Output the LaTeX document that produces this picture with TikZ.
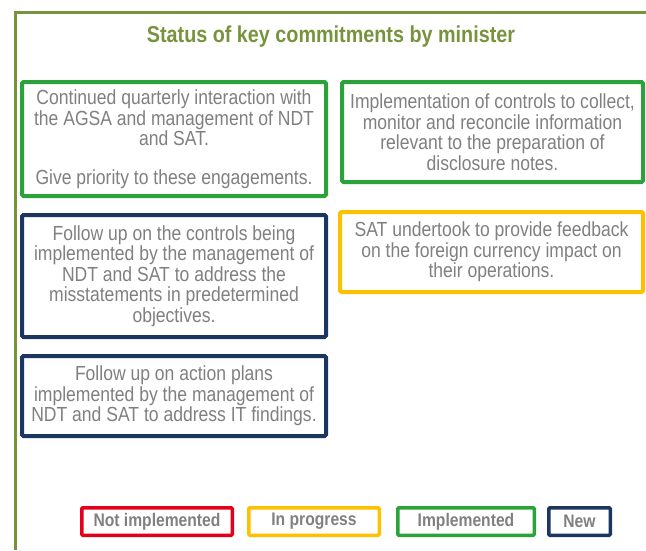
\documentclass[tikz,border=0pt]{standalone}
\usepackage{fontspec}
\setmainfont[FakeStretch=0.86]{Liberation Sans}
\definecolor{frameolive}{RGB}{119, 147, 60}
\definecolor{stgreen}{RGB}{44, 162, 58}
\definecolor{stnavy}{RGB}{28, 54, 98}
\definecolor{styellow}{RGB}{255, 192, 0}
\definecolor{stred}{RGB}{226, 0, 26}
\definecolor{txtgray}{RGB}{128, 128, 128}
\usetikzlibrary{positioning}

\begin{document}
\begin{tikzpicture}[x=1pt, y=-1pt, node distance=15pt,
  card/.style={draw=#1, line width=4pt, rounded corners=1.5pt, fill=white, text=txtgray,
    align=center, inner sep=0pt, font=\fontsize{20.4}{20.5}\selectfont},
  key/.style={draw=#1, line width=3.5pt, rounded corners=1pt, text=txtgray, inner sep=0pt,
    minimum height=27.5pt, font=\bfseries\fontsize{18.2}{19}\selectfont}]
  \useasboundingbox (0,0) rectangle (646,550);
  \draw[frameolive, line width=3pt] (15,550) |- (646,12);

  \node[text=frameolive, font=\bfseries\fontsize{23}{24}\selectfont] (title) at (331,37)
    {Status of key commitments by minister};

  % left column
  \node[card=stgreen, minimum width=304pt, minimum height=114pt, anchor=north west] (liaise) at (20,80)
    {Continued quarterly interaction with\\the AGSA and management of NDT\\and SAT.\\[18pt]Give priority to these engagements.};
  \node[card=stnavy, minimum width=304pt, minimum height=122pt, below=of liaise] (followctrl)
    {Follow up on the controls being\\implemented by the management of\\NDT and SAT to address the\\misstatements in predetermined\\objectives.};
  \node[card=stnavy, minimum width=304pt, minimum height=80pt, below=of followctrl] (followit)
    {Follow up on action plans\\implemented by the management of\\NDT and SAT to address IT findings.};

  % right column
  \node[card=stgreen, minimum width=301pt, minimum height=100pt, anchor=north west] (disclose) at (340,80)
    {Implementation of controls to collect,\\monitor and reconcile information\\relevant to the preparation of\\disclosure notes.};
  \node[card=styellow, minimum width=303pt, minimum height=80pt, anchor=north west] (forex) at (338,210)
    {SAT undertook to provide feedback\\on the foreign currency impact on\\their operations.};

  % legend
  \node[key=stred, minimum width=150.5pt, anchor=north west] (notimpl) at (80,506) {Not implemented};
  \node[key=styellow, minimum width=130.5pt, right=13pt of notimpl] (inprog) {In progress};
  \node[key=stgreen, minimum width=136.5pt, right=15pt of inprog] (impl) {Implemented};
  \node[key=stnavy, minimum width=61.5pt, right=11pt of impl] (new) {New};
\end{tikzpicture}
\end{document}
